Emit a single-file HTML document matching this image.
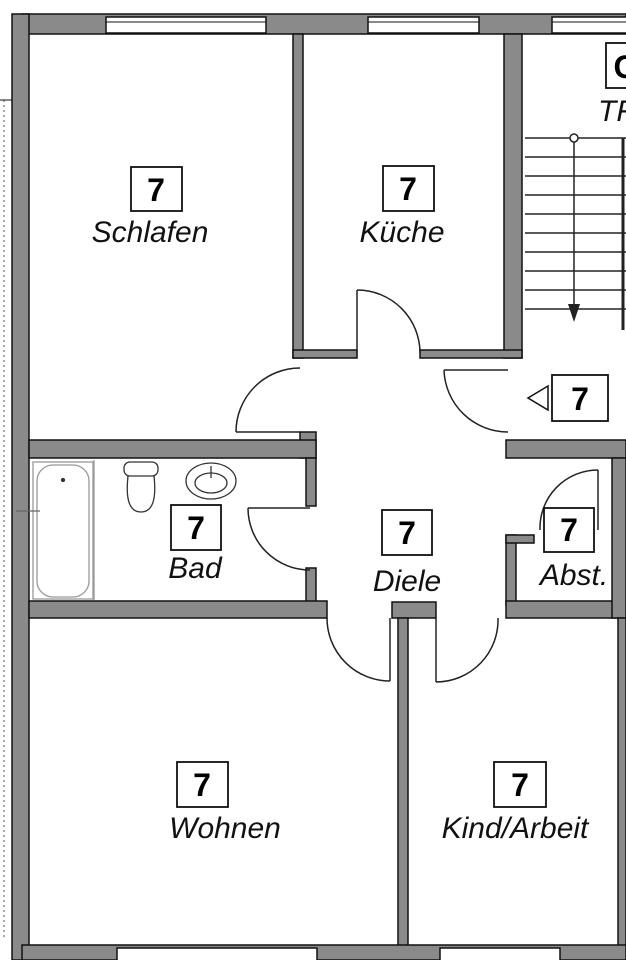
<!DOCTYPE html>
<html><head><meta charset="utf-8"><style>
html,body{margin:0;padding:0;background:#fff;}
svg{display:block;}
.lab{font-family:"Liberation Sans",sans-serif;font-style:italic;font-size:30px;fill:#111;text-anchor:middle;}
.num{font-family:"Liberation Sans",sans-serif;font-weight:bold;font-size:32px;fill:#000;text-anchor:middle;}
</style></head><body>
<svg width="626" height="960" viewBox="0 0 626 960" xmlns="http://www.w3.org/2000/svg">
<rect width="626" height="960" fill="#fff"/>
<g fill="#8a8a8a" stroke="#111" stroke-width="1.5">
<rect x="22" y="14" width="604" height="20"/>
<rect x="12" y="14" width="17" height="946"/>
<rect x="293" y="34" width="10" height="324"/>
<rect x="504" y="34" width="18" height="324"/>
<rect x="293" y="350" width="64" height="8"/>
<rect x="420" y="350" width="102" height="8"/>
<rect x="300" y="432" width="16" height="26"/>
<rect x="29" y="440" width="287" height="18"/>
<rect x="306" y="458" width="10" height="48"/>
<rect x="306" y="568" width="10" height="34"/>
<rect x="29" y="601" width="298" height="17"/>
<rect x="506" y="440" width="120" height="18"/>
<rect x="506" y="535" width="10" height="70"/>
<rect x="506" y="535" width="28" height="8"/>
<rect x="506" y="601" width="120" height="17"/>
<rect x="612" y="458" width="14" height="160"/>
<rect x="392" y="602" width="44" height="16"/>
<rect x="398" y="618" width="10" height="330"/>
<rect x="618" y="618" width="8" height="330"/>
<rect x="22" y="945" width="604" height="15"/>
</g>
<g fill="#fff" stroke="#111" stroke-width="1.5">
<rect x="106" y="17" width="160" height="16"/>
<rect x="368" y="17" width="111" height="16"/>
<rect x="552" y="17" width="80" height="16"/>
<rect x="117" y="948" width="200" height="14"/>
<rect x="440" y="948" width="120" height="14"/>
</g>
<g stroke="#111" stroke-width="1" fill="none">
<line x1="106" y1="22" x2="266" y2="22"/><line x1="368" y1="22" x2="479" y2="22"/><line x1="552" y1="22" x2="626" y2="22"/>
<line x1="4" y1="100" x2="4" y2="940" stroke-dasharray="2,3" stroke="#555"/>
<line x1="0" y1="100" x2="12" y2="100"/>
</g>
<g stroke="#222" stroke-width="1.5" fill="none">
<path d="M357 290 A63 63 0 0 1 420 353"/><line x1="357" y1="290" x2="357" y2="353"/>
<path d="M300 368 A64 64 0 0 0 236 432"/><line x1="236" y1="432" x2="300" y2="432"/>
<path d="M444 370 A64 64 0 0 0 508 432"/><line x1="444" y1="370" x2="508" y2="370"/>
<path d="M248 508 A62 62 0 0 0 310 570"/><line x1="248" y1="508" x2="310" y2="508"/>
<path d="M598 470 A58 58 0 0 0 540 530"/><line x1="598" y1="470" x2="598" y2="530"/>
<path d="M327 618 A63 63 0 0 0 390 681"/><line x1="390" y1="618" x2="390" y2="681"/>
<path d="M498 618 A62 62 0 0 1 436 682"/><line x1="436" y1="618" x2="436" y2="682"/>
</g>
<g stroke="#222" stroke-width="1.5" fill="none">
<line x1="525" y1="138" x2="626" y2="138"/>
<line x1="525" y1="157" x2="626" y2="157"/><line x1="525" y1="176" x2="626" y2="176"/>
<line x1="525" y1="195" x2="626" y2="195"/><line x1="525" y1="214" x2="626" y2="214"/>
<line x1="525" y1="233" x2="626" y2="233"/><line x1="525" y1="252" x2="626" y2="252"/>
<line x1="525" y1="271" x2="626" y2="271"/><line x1="525" y1="290" x2="626" y2="290"/>
<line x1="525" y1="309" x2="626" y2="309"/>
<line x1="574" y1="138" x2="574" y2="318"/>
<line x1="623" y1="138" x2="623" y2="330" stroke-width="3"/>
</g>
<circle cx="574" cy="138" r="4" fill="#fff" stroke="#222" stroke-width="1.5"/>
<path d="M568 304 L580 304 L574 322 Z" fill="#222"/>
<g stroke="#333" stroke-width="1.3" fill="none">
<rect x="33" y="462" width="60" height="137" stroke="#999"/>
<rect x="37" y="465" width="52" height="132" rx="16" stroke="#999"/>
<line x1="94" y1="460" x2="94" y2="600" stroke="#999"/>
<circle cx="63" cy="480" r="1.5" fill="#333"/>
<line x1="16" y1="511" x2="40" y2="511" stroke="#666"/>
<rect x="124" y="462" width="34" height="14" rx="6"/>
<path d="M128 476 Q124 512 141 512 Q158 512 154 476"/>
<ellipse cx="211" cy="481" rx="25" ry="18"/>
<ellipse cx="211" cy="483" rx="16" ry="10"/>
<line x1="211" y1="466" x2="211" y2="478"/>
</g>
<g fill="#fff" stroke="#111" stroke-width="1.8">
<rect x="131" y="167" width="51" height="44"/>
<rect x="383" y="166" width="51" height="45"/>
<rect x="171" y="505" width="50" height="45"/>
<rect x="382" y="510" width="50" height="45"/>
<rect x="544" y="508" width="50" height="44"/>
<rect x="552" y="375" width="56" height="46"/>
<rect x="177" y="762" width="51" height="45"/>
<rect x="494" y="762" width="52" height="45"/>
<rect x="606" y="43" width="30" height="45"/>
</g>
<path d="M548 386 L528 398 L548 410 Z" fill="#fff" stroke="#111" stroke-width="1.5"/>
<g class="num">
<text x="156" y="201" class="num">7</text>
<text x="408" y="200" class="num">7</text>
<text x="196" y="539" class="num">7</text>
<text x="407" y="544" class="num">7</text>
<text x="569" y="541" class="num">7</text>
<text x="580" y="410" class="num">7</text>
<text x="202" y="796" class="num">7</text>
<text x="520" y="796" class="num">7</text>
<text x="625" y="78" class="num">C</text>
</g>
<text x="150" y="242" class="lab">Schlafen</text>
<text x="402" y="242" class="lab">Küche</text>
<text x="195" y="578" class="lab">Bad</text>
<text x="407" y="591" class="lab">Diele</text>
<text x="574" y="585" class="lab">Abst.</text>
<text x="225" y="838" class="lab">Wohnen</text>
<text x="515" y="838" class="lab">Kind/Arbeit</text>
<text x="598" y="121" class="lab" style="text-anchor:start">TR</text>
</svg>
</body></html>
